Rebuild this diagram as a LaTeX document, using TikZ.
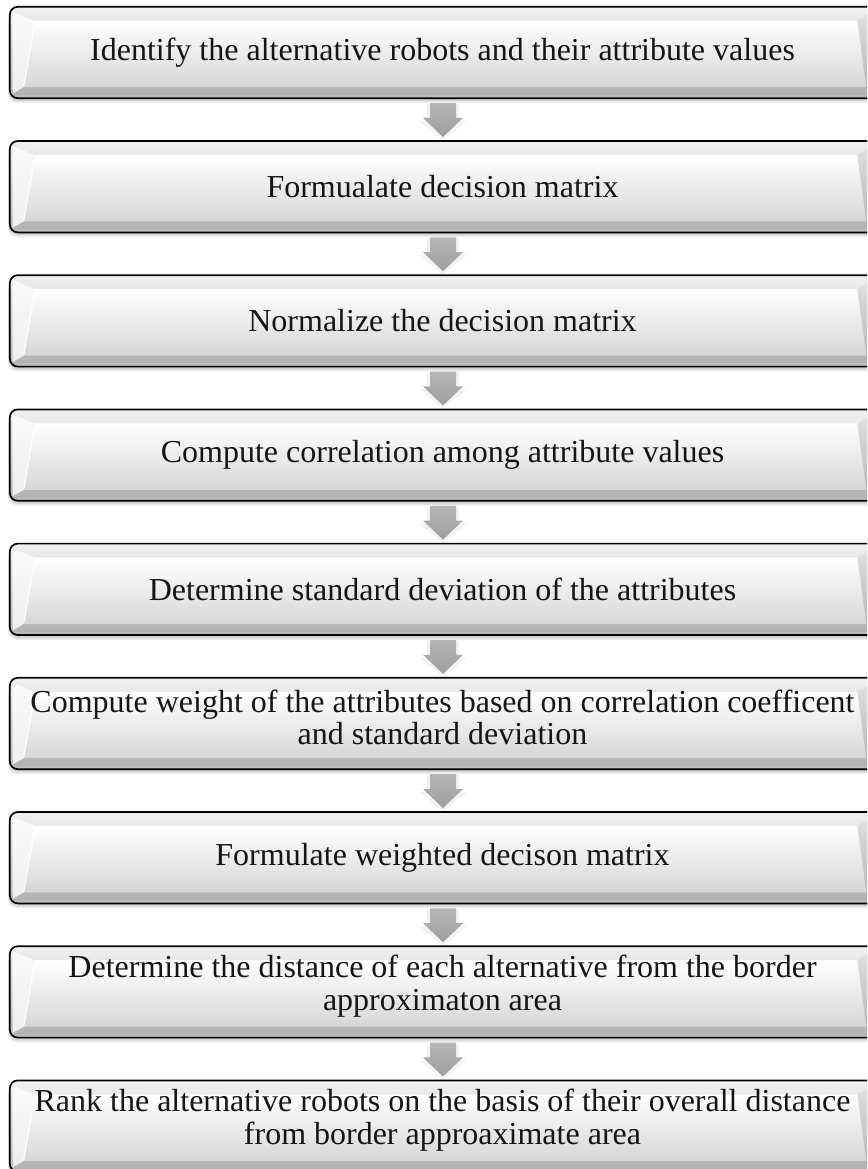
\documentclass[tikz,border=0pt]{standalone}
\usepackage{fontspec}
\setmainfont{Liberation Serif}
\usetikzlibrary{calc}
\definecolor{facebot}{HTML}{D6D6D6}
\definecolor{outertop}{HTML}{F0F0F0}
\definecolor{outerbot}{HTML}{BCBCBC}
\definecolor{arrowtop}{HTML}{B6B6B6}
\definecolor{arrowbot}{HTML}{9E9E9E}
\definecolor{txt}{HTML}{151515}
\tikzset{
  boxtext/.style={minimum width=865pt, minimum height=91pt, inner sep=0pt, align=center,
    text=txt, font=\fontsize{32}{32.5}\selectfont},
  boxoutline/.style={draw=black, line width=1.7pt, rounded corners=8pt, top color=outertop, bottom color=outerbot},
  boxface/.style={top color=white, bottom color=facebot},
  boxshadow/.style={fill=black, opacity=0.05, rounded corners=9pt},
  arrowfill/.style={top color=arrowtop, bottom color=arrowbot},
  arrowshadow/.style={fill=black, opacity=0.05},
}
\newcommand{\bevelbox}[1]{%
  \foreach \s in {2,4,6,8}{
    \fill[boxshadow] ($(#1.north west)+(-\s/4,\s)$) rectangle ($(#1.south east)+(\s/4,\s/2+1)$);
  }
  \path[boxoutline] (#1.north west) rectangle (#1.south east);
  \fill[white, opacity=0.75] ($(#1.north west)+(3,5)$) -- ($(#1.north west)+(25,14)$)
      -- ($(#1.south west)+(14,-11)$) -- ($(#1.south west)+(3,-5)$) -- cycle;
  \fill[black, opacity=0.06] ($(#1.south west)+(3,-3)$) -- ($(#1.south west)+(14,-11)$)
      -- ($(#1.south east)+(-9,-11)$) -- ($(#1.south east)+(-3,-3)$) -- cycle;
  \fill[black, opacity=0.05] ($(#1.north east)+(-3,5)$) -- ($(#1.north east)+(-18,14)$)
      -- ($(#1.south east)+(-9,-11)$) -- ($(#1.south east)+(-3,-3)$) -- cycle;
  \path[boxface] ($(#1.north west)+(25,14)$) -- ($(#1.north east)+(-18,14)$)
      -- ($(#1.south east)+(-9,-11)$) -- ($(#1.south west)+(14,-11)$) -- cycle;
  \draw[white, line width=1.2pt] ($(#1.north west)+(25,16)$) -- ($(#1.south west)+(14,-12)$);
}
\newcommand{\flowarrow}[2]{%
  \coordinate (#1t) at ($(#1.south)+(0.5,5)$);
  \coordinate (#1p) at ($(#2.north)+(0.5,-4)$);
  \fill[arrowshadow] ($(#1t)+(-16,1)$) -- ($(#1t)+(16,1)$) -- ($(#1p)+(16,-16)$) -- ($(#1p)+(24,-16)$)
      -- ($(#1p)+(0,3)$) -- ($(#1p)+(-24,-16)$) -- ($(#1p)+(-16,-16)$) -- cycle;
  \path[arrowfill] ($(#1t)+(-13,0)$) -- ($(#1t)+(13,0)$) -- ($(#1p)+(13,-19)$) -- ($(#1p)+(20,-19)$)
      -- (#1p) -- ($(#1p)+(-20,-19)$) -- ($(#1p)+(-13,-19)$) -- cycle;
}
\begin{document}
\begin{tikzpicture}[x=1pt,y=-1pt]
\clip (0,0) rectangle (867,1169);
\fill[white] (0,0) rectangle (867,1169);
\node[boxtext] (b1) at (442.5,52.5) {};
\node[boxtext] (b2) at (442.5,186.7) {};
\node[boxtext] (b3) at (442.5,320.9) {};
\node[boxtext] (b4) at (442.5,455.1) {};
\node[boxtext] (b5) at (442.5,589.3) {};
\node[boxtext] (b6) at (442.5,723.5) {};
\node[boxtext] (b7) at (442.5,857.7) {};
\node[boxtext] (b8) at (442.5,991.9) {};
\node[boxtext] (b9) at (442.5,1126.1) {};
\foreach \b in {b1,b2,b3,b4,b5,b6,b7,b8,b9}{\bevelbox{\b}}
\flowarrow{b1}{b2}
\flowarrow{b2}{b3}
\flowarrow{b3}{b4}
\flowarrow{b4}{b5}
\flowarrow{b5}{b6}
\flowarrow{b6}{b7}
\flowarrow{b7}{b8}
\flowarrow{b8}{b9}
\node[boxtext] (t1) at (b1) {Identify the alternative robots and their attribute values};
\node[boxtext] (t2) at (b2) {Formualate decision matrix};
\node[boxtext] (t3) at (b3) {Normalize the decision matrix};
\node[boxtext] (t4) at (b4) {Compute correlation among attribute values};
\node[boxtext] (t5) at (b5) {Determine standard deviation of the attributes};
\node[boxtext] (t6) at ($(b6)+(0,-6)$) {Compute weight of the attributes based on correlation coefficent\\and standard deviation};
\node[boxtext] (t7) at (b7) {Formulate weighted decison matrix};
\node[boxtext] (t8) at ($(b8)+(0,-6)$) {Determine the distance of each alternative from the border\\approximaton area};
\node[boxtext] (t9) at ($(b9)+(0,-6)$) {Rank the alternative robots on the basis of their overall distance\\from border approaximate area};
\end{tikzpicture}
\end{document}
